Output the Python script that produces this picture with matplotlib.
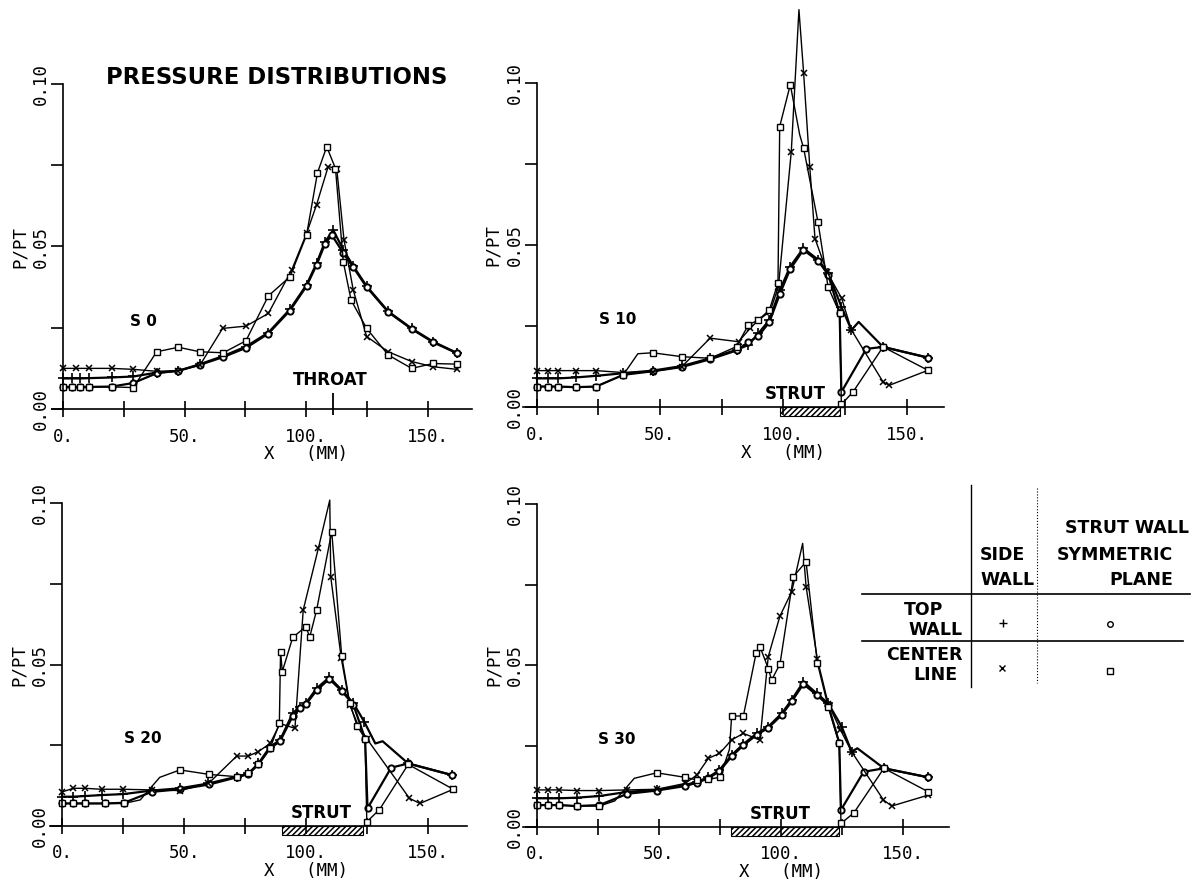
import matplotlib
matplotlib.use("Agg")
import matplotlib.pyplot as plt
from matplotlib.patches import Rectangle

plt.rcParams["hatch.linewidth"] = 1.1
plt.rcParams["hatch.color"] = "black"

# ---- data (x in mm, P/PT) ----
# S0
s0_plus_x = [0, 3.6, 7.0, 10.8, 20.0, 28.9, 38.5, 47.4, 56.3, 65.9, 75.2, 84.4, 93.3, 100.1, 104.2, 107.7, 111.1, 115.2, 119.3, 124.8, 133.7, 143.3, 152.2, 161.8]
s0_plus_y = [0.0094, 0.0094, 0.0094, 0.0095, 0.0097, 0.0100, 0.0112, 0.0117, 0.0138, 0.0163, 0.0192, 0.0235, 0.0307, 0.0382, 0.0448, 0.0515, 0.0550, 0.0490, 0.0440, 0.0378, 0.0300, 0.0248, 0.0207, 0.0173]
s0_circ_x = [0, 3.6, 7.0, 10.8, 20.0, 28.9, 38.5, 47.4, 56.3, 65.9, 75.2, 84.4, 93.3, 100.1, 104.2, 107.7, 110.5, 115.2, 119.3, 124.8, 133.7, 143.3, 152.2, 161.8]
s0_circ_y = [0.0068, 0.0068, 0.0068, 0.0068, 0.0069, 0.0080, 0.0110, 0.0118, 0.0136, 0.0160, 0.0188, 0.0232, 0.0303, 0.0378, 0.0443, 0.0508, 0.0535, 0.0480, 0.0436, 0.0375, 0.0298, 0.0246, 0.0205, 0.0172]
s0_cross_x = [0, 5.4, 10.8, 20.0, 28.9, 38.5, 47.4, 56.3, 65.6, 75.2, 84.4, 94.0, 100.1, 104.2, 109.0, 112.5, 115.5, 119.3, 124.8, 133.7, 143.3, 152.2, 161.8]
s0_cross_y = [0.0125, 0.0125, 0.0125, 0.0125, 0.0122, 0.0116, 0.0118, 0.0135, 0.0248, 0.0255, 0.0294, 0.0428, 0.0540, 0.0628, 0.0746, 0.0740, 0.0520, 0.0366, 0.0223, 0.0176, 0.0146, 0.0130, 0.0122]
s0_sq_x = [0, 3.6, 7.0, 10.8, 20.0, 28.9, 38.5, 47.4, 56.3, 65.9, 75.2, 84.4, 93.3, 100.1, 104.6, 108.4, 112.0, 115.2, 118.4, 124.8, 133.7, 143.3, 152.2, 161.8]
s0_sq_y = [0.0068, 0.0068, 0.0068, 0.0068, 0.0068, 0.0066, 0.0176, 0.0190, 0.0176, 0.0173, 0.0210, 0.0348, 0.0407, 0.0535, 0.0727, 0.0807, 0.0740, 0.0453, 0.0335, 0.0248, 0.0166, 0.0125, 0.0140, 0.0138]

# S10
s10_plus_x = [0, 4.7, 8.5, 15.9, 24.1, 35.1, 47.0, 58.8, 70.3, 81.0, 85.8, 89.9, 94.3, 98.6, 102.7, 108.1, 114.2, 118.2, 123.5, 127.6, 130.5, 140.4, 158.6]
s10_plus_y = [0.0089, 0.0089, 0.0089, 0.0092, 0.0097, 0.0105, 0.0113, 0.0127, 0.0151, 0.0177, 0.0192, 0.0228, 0.0269, 0.0361, 0.0433, 0.0490, 0.0454, 0.0413, 0.0310, 0.0238, 0.0263, 0.0186, 0.0153]
s10_circ_x = [0, 4.7, 8.5, 15.9, 24.1, 35.1, 47.0, 58.8, 70.3, 81.0, 85.8, 89.9, 94.3, 98.6, 102.7, 108.1, 114.2, 118.2, 122.8, 123.5, 133.6, 140.4, 158.6]
s10_circ_y = [0.0064, 0.0064, 0.0064, 0.0062, 0.0064, 0.0100, 0.0111, 0.0124, 0.0148, 0.0175, 0.0200, 0.0220, 0.0262, 0.0350, 0.0425, 0.0485, 0.0450, 0.0408, 0.0290, 0.0047, 0.0180, 0.0186, 0.0153]
s10_cross_x = [0, 4.7, 8.5, 15.9, 24.1, 35.1, 47.0, 58.8, 70.3, 81.8, 86.5, 89.9, 94.6, 98.0, 103.2, 106.3, 108.2, 110.7, 112.8, 117.6, 123.6, 127.6, 140.4, 143.0, 158.6]
s10_cross_y = [0.0113, 0.0113, 0.0113, 0.0113, 0.0113, 0.0107, 0.0110, 0.0125, 0.0213, 0.0202, 0.0243, 0.0269, 0.0295, 0.0372, 0.0788, 0.1225, 0.1030, 0.0740, 0.0520, 0.0418, 0.0336, 0.0238, 0.0078, 0.0068, 0.0114]
s10_sq_x = [0, 4.7, 8.5, 15.9, 24.1, 35.1, 41.0, 47.0, 58.8, 70.3, 81.0, 85.8, 89.9, 94.3, 97.8, 98.5, 102.8, 106.6, 108.2, 114.0, 118.1, 122.8, 123.5, 128.2, 140.4, 158.6]
s10_sq_y = [0.0064, 0.0064, 0.0064, 0.0062, 0.0064, 0.0100, 0.0165, 0.0168, 0.0156, 0.0151, 0.0187, 0.0254, 0.0269, 0.0300, 0.0383, 0.0865, 0.0994, 0.0840, 0.0798, 0.0572, 0.0371, 0.0290, 0.0009, 0.0047, 0.0186, 0.0114]

# S20
s20_plus_x = [0, 4.5, 9.3, 16.1, 25.0, 36.7, 48.3, 60.0, 71.6, 76.4, 80.5, 85.3, 89.4, 94.6, 97.6, 100.0, 104.4, 109.6, 114.7, 119.5, 123.9, 128.5, 131.5, 142.0, 160.0]
s20_plus_y = [0.0090, 0.0090, 0.0092, 0.0095, 0.0098, 0.0109, 0.0116, 0.0131, 0.0152, 0.0162, 0.0193, 0.0245, 0.0266, 0.0349, 0.0369, 0.0380, 0.0426, 0.0460, 0.0421, 0.0380, 0.0323, 0.0255, 0.0262, 0.0193, 0.0157]
s20_circ_x = [0, 4.5, 9.3, 17.5, 25.3, 36.7, 48.3, 60.4, 71.6, 76.4, 80.5, 85.3, 89.4, 94.6, 97.6, 100.0, 104.4, 109.6, 114.7, 119.5, 124.3, 125.3, 135.0, 142.0, 160.0]
s20_circ_y = [0.0069, 0.0069, 0.0069, 0.0069, 0.0071, 0.0105, 0.0113, 0.0128, 0.0150, 0.0160, 0.0190, 0.0240, 0.0262, 0.0340, 0.0365, 0.0376, 0.0420, 0.0455, 0.0418, 0.0375, 0.0270, 0.0054, 0.0180, 0.0193, 0.0157]
s20_cross_x = [0, 4.5, 9.3, 16.1, 25.0, 36.7, 48.3, 60.0, 71.6, 76.4, 80.5, 85.3, 89.4, 95.5, 98.9, 105.1, 109.8, 110.2, 114.5, 118.0, 121.5, 125.0, 142.5, 146.8, 160.5]
s20_cross_y = [0.0105, 0.0116, 0.0116, 0.0113, 0.0113, 0.0111, 0.0109, 0.0131, 0.0216, 0.0216, 0.0230, 0.0255, 0.0317, 0.0302, 0.0669, 0.0860, 0.1010, 0.0772, 0.0520, 0.0375, 0.0310, 0.0270, 0.0085, 0.0069, 0.0113]
s20_sq_x = [0, 4.5, 9.3, 17.5, 25.3, 32.0, 40.0, 48.3, 60.4, 71.6, 76.4, 80.5, 85.3, 89.1, 89.6, 90.3, 94.6, 99.9, 101.6, 104.4, 110.6, 114.7, 118.0, 121.0, 124.3, 125.0, 130.2, 142.0, 160.5]
s20_sq_y = [0.0069, 0.0069, 0.0069, 0.0069, 0.0069, 0.0080, 0.0150, 0.0173, 0.0159, 0.0152, 0.0162, 0.0190, 0.0240, 0.0317, 0.0540, 0.0478, 0.0584, 0.0617, 0.0586, 0.0669, 0.0912, 0.0526, 0.0380, 0.0310, 0.0270, 0.0012, 0.0050, 0.0190, 0.0113]

# S30
s30_plus_x = [0, 4.8, 9.2, 16.4, 25.7, 37.2, 49.2, 60.8, 65.6, 70.4, 74.9, 79.9, 84.7, 90.2, 94.9, 100.4, 104.5, 109.3, 114.8, 119.5, 125.0, 129.1, 131.4, 142.3, 160.5]
s30_plus_y = [0.0088, 0.0088, 0.0088, 0.0090, 0.0095, 0.0108, 0.0114, 0.0129, 0.0139, 0.0153, 0.0176, 0.0222, 0.0256, 0.0289, 0.0310, 0.0351, 0.0393, 0.0449, 0.0413, 0.0382, 0.0310, 0.0232, 0.0243, 0.0181, 0.0153]
s30_circ_x = [0, 4.8, 9.2, 16.4, 25.7, 37.2, 49.2, 60.8, 65.6, 70.4, 74.9, 79.9, 84.7, 90.2, 94.9, 100.4, 104.5, 109.3, 114.8, 119.5, 124.0, 124.7, 134.0, 142.3, 160.5]
s30_circ_y = [0.0067, 0.0067, 0.0067, 0.0064, 0.0067, 0.0102, 0.0112, 0.0126, 0.0136, 0.0150, 0.0172, 0.0218, 0.0252, 0.0285, 0.0306, 0.0346, 0.0388, 0.0442, 0.0408, 0.0376, 0.0260, 0.0052, 0.0170, 0.0181, 0.0153]
s30_cross_x = [0, 4.8, 9.2, 16.4, 25.7, 37.2, 49.2, 60.8, 65.6, 70.4, 74.9, 79.9, 84.7, 91.5, 94.9, 99.7, 104.5, 109.0, 110.4, 115.0, 119.5, 124.5, 129.1, 142.1, 145.5, 160.5]
s30_cross_y = [0.0114, 0.0114, 0.0114, 0.0112, 0.0112, 0.0114, 0.0116, 0.0134, 0.0160, 0.0212, 0.0227, 0.0269, 0.0289, 0.0269, 0.0527, 0.0653, 0.0728, 0.0878, 0.0744, 0.0520, 0.0380, 0.0300, 0.0232, 0.0083, 0.0064, 0.0098]
s30_sq_x = [0, 4.8, 9.2, 16.4, 25.7, 32.0, 40.0, 49.2, 60.8, 65.6, 70.4, 75.1, 79.0, 79.9, 84.7, 89.9, 91.5, 94.9, 96.3, 99.7, 105.2, 110.4, 115.0, 119.5, 124.0, 124.7, 130.0, 142.3, 160.5]
s30_sq_y = [0.0067, 0.0067, 0.0067, 0.0064, 0.0064, 0.0080, 0.0150, 0.0167, 0.0153, 0.0145, 0.0147, 0.0153, 0.0240, 0.0343, 0.0343, 0.0537, 0.0558, 0.0490, 0.0455, 0.0504, 0.0775, 0.0821, 0.0508, 0.0370, 0.0258, 0.0010, 0.0043, 0.0181, 0.0108]

# curve vertices that carry no plotted symbol (peaks of the smoothed curves)
unmarked_x = [[], [106.3, 130.5, 106.6, 41.0], [109.8, 128.5, 131.5, 32.0, 40.0], [109.0, 131.4, 32.0, 40.0, 79.0]]

case_names = ["S 0", "S 10", "S 20", "S 30"]
throat_x = 111
strut_start = [None, 98.5, 90.0, 79.5]
strut_end = [None, 123.0, 123.6, 124.0]
strut_label_x = [None, 105, 106.5, 100]

x_ticks = [0, 25, 50, 75, 100, 125, 150]
x_ticklabels = ["0.", "", "50.", "", "100.", "", "150."]
y_ticks = [0, 0.025, 0.05, 0.075, 0.10]
y_ticklabels = ["0.00", "", "0.05", "", "0.10"]

W, H = 1193, 886
MONO = "DejaVu Sans Mono"

fig = plt.figure(figsize=(W / 100, H / 100), dpi=100)

# pixel location of the data origin and scale of each panel
panel_geom = [
    (63.0, 409.0, 2.433, 3250, (-4.5, 168)),
    (536.7, 407.3, 2.467, 3246, (-5.5, 165)),
    (62.3, 825.7, 2.436, 3224, (-5.0, 166)),
    (536.7, 826.7, 2.440, 3227, (-5.5, 169)),
]

series = [
    [(s0_plus_x, s0_plus_y), (s0_circ_x, s0_circ_y), (s0_cross_x, s0_cross_y), (s0_sq_x, s0_sq_y)],
    [(s10_plus_x, s10_plus_y), (s10_circ_x, s10_circ_y), (s10_cross_x, s10_cross_y), (s10_sq_x, s10_sq_y)],
    [(s20_plus_x, s20_plus_y), (s20_circ_x, s20_circ_y), (s20_cross_x, s20_cross_y), (s20_sq_x, s20_sq_y)],
    [(s30_plus_x, s30_plus_y), (s30_circ_x, s30_circ_y), (s30_cross_x, s30_cross_y), (s30_sq_x, s30_sq_y)],
]

styles = [
    dict(marker="+", ms=7, mew=1.2, lw=1.6),
    dict(marker="o", ms=4.5, mew=1.4, mfc="white", lw=1.6),
    dict(marker="x", ms=5, mew=1.1, lw=1.0),
    dict(marker="s", ms=5, mew=1.0, mfc="white", lw=1.0),
]

XLO, XHI, YLO, YHI = -8, 172, -0.006, 0.126

for i, (x0, y0, sx, sy, xb) in enumerate(panel_geom):
    left = x0 + XLO * sx
    right = x0 + XHI * sx
    top = y0 - YHI * sy
    bottom = y0 - YLO * sy
    ax = fig.add_axes([left / W, 1 - bottom / H, (right - left) / W, (bottom - top) / H])
    ax.set_xlim(XLO, XHI)
    ax.set_ylim(YLO, YHI)
    ax.patch.set_visible(False)

    for sp in ("top", "right"):
        ax.spines[sp].set_visible(False)
    ax.spines["left"].set_position(("data", 0))
    ax.spines["left"].set_bounds(0, 0.10)
    ax.spines["bottom"].set_position(("data", 0))
    ax.spines["bottom"].set_bounds(*xb)
    for sp in ("left", "bottom"):
        ax.spines[sp].set_linewidth(1.2)

    ax.set_xticks(x_ticks)
    ax.set_xticklabels(x_ticklabels, fontfamily=MONO, fontsize=12.5)
    ax.set_yticks(y_ticks)
    ax.set_yticklabels(y_ticklabels, fontfamily=MONO, fontsize=12.5, rotation=90, va="center")
    ax.tick_params(axis="x", direction="inout", length=11, width=1.2, pad=8)
    ax.tick_params(axis="y", direction="out", length=8.5, width=1.2, pad=1)

    ax.set_ylabel("P/PT", fontfamily=MONO, fontsize=12.5, va="center")
    ax.yaxis.set_label_coords(-17.7, 0.05, transform=ax.transData)
    ax.set_xlabel("X   (MM)", fontfamily=MONO, fontsize=12.5, va="center")
    ax.xaxis.set_label_coords(100, -0.014, transform=ax.transData)

    for (xs, ys), st in zip(series[i], styles):
        marks = [j for j, xv in enumerate(xs) if xv not in unmarked_x[i]]
        ax.plot(xs, ys, color="black", clip_on=False, markevery=marks, **st)

    ax.text(33, 0.027, case_names[i], fontsize=11, fontweight="bold", ha="center", va="center")

    if i == 0:
        ax.text(110, 0.0089, "THROAT", fontsize=12, fontweight="bold", ha="center", va="center")
        ax.vlines(throat_x, -0.0018, 0.0049, color="black", lw=1.3)
    else:
        ax.text(strut_label_x[i], 0.0040, "STRUT", fontsize=12, fontweight="bold", ha="center", va="center")
        ax.add_patch(Rectangle((strut_start[i], -0.0028), strut_end[i] - strut_start[i], 0.0028,
                               facecolor="none", hatch="//////", lw=0.8, edgecolor="black"))

fig.text(277 / W, 1 - 77 / H, "PRESSURE DISTRIBUTIONS", fontsize=16.4, fontweight="bold",
         ha="center", va="center")

# key table
tab = fig.add_axes([0, 0, 1, 1], zorder=-1)
tab.set_xlim(0, W)
tab.set_ylim(H, 0)
tab.axis("off")
tab.plot([862, 1190], [594, 594], color="black", lw=1.2)
tab.plot([862, 1183], [641, 641], color="black", lw=1.2)
tab.plot([971, 971], [485, 687], color="black", lw=1.0)
tab.plot([1037, 1037], [488, 683], color="black", lw=0.8, ls=":")
kw = dict(fontsize=12.5, fontweight="bold", va="center")
tab.text(1189, 528, "STRUT WALL", ha="right", **kw)
tab.text(1173, 555, "SYMMETRIC", ha="right", **kw)
tab.text(1173, 580, "PLANE", ha="right", **kw)
tab.text(980, 555, "SIDE", ha="left", **kw)
tab.text(980, 580, "WALL", ha="left", **kw)
tab.text(924, 610, "TOP", ha="center", **kw)
tab.text(963, 630, "WALL", ha="right", **kw)
tab.text(963, 655, "CENTER", ha="right", **kw)
tab.text(935, 675, "LINE", ha="center", **kw)
tab.plot([1003], [623], color="black", marker="+", ms=6, mew=1.0, ls="none")
tab.plot([1110], [624], color="black", marker="o", ms=4, mew=1.0, mfc="white", ls="none")
tab.plot([1002], [668], color="black", marker="x", ms=4, mew=1.0, ls="none")
tab.plot([1110], [671], color="black", marker="s", ms=4, mew=1.0, mfc="white", ls="none")

fig.savefig("out.png", dpi=100)
